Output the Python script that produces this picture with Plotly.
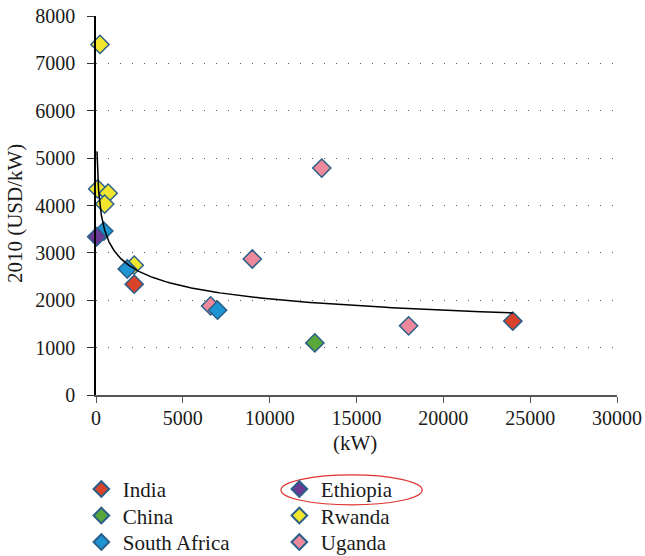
import numpy as np
import plotly.graph_objects as go

# ---- data ----
india_x = [2200, 24000]
india_y = [2340, 1560]
ethiopia_x = [40]
ethiopia_y = [3340]
china_x = [12600]
china_y = [1100]
rwanda_x = [230, 100, 700, 500, 2200]
rwanda_y = [7400, 4350, 4260, 4030, 2740]
safrica_x = [450, 1800, 7000]
safrica_y = [3460, 2660, 1790]
uganda_x = [13000, 9000, 6600, 18000]
uganda_y = [4790, 2870, 1880, 1460]

x_ticks = [0, 5000, 10000, 15000, 20000, 25000, 30000]
y_ticks = [0, 1000, 2000, 3000, 4000, 5000, 6000, 7000, 8000]

# power trend line y = A * x^B (coefficients)
TREND_A = 10647
TREND_B = -0.18
TREND_X_START = 57
TREND_X_END = 24000

# (name, x, y, colour, legend column, legend row)
series = [
    ("India", india_x, india_y, "#d8432a", 0, 0),
    ("China", china_x, china_y, "#5aa83a", 0, 1),
    ("Rwanda", rwanda_x, rwanda_y, "#f2e62c", 1, 1),
    ("Uganda", uganda_x, uganda_y, "#ee899b", 1, 2),
    ("South Africa", safrica_x, safrica_y, "#1f94d2", 0, 2),
    ("Ethiopia", ethiopia_x, ethiopia_y, "#6a3a94", 1, 0),
]

FONT = "Liberation Serif"
TXT = "#1a1a1a"

fig = go.Figure()

legend_layout = {}
col_x = [-0.031, 0.349]
row_y0 = -0.195
row_step = 26.5 / 379.0
for i, (name, xs, ys, col, lc, lr) in enumerate(series):
    key = "legend" if i == 0 else f"legend{i + 1}"
    fig.add_trace(go.Scatter(
        x=xs, y=ys, mode="markers", name=name, cliponaxis=False, legend=key,
        marker=dict(symbol="diamond", size=14, color=col,
                    line=dict(color="#2a5f8a", width=1.5)),
    ))
    legend_layout[key] = dict(
        x=col_x[lc], y=row_y0 - lr * row_step, xanchor="left", yanchor="top",
        orientation="v", bgcolor="rgba(0,0,0,0)", itemsizing="constant", itemwidth=33,
        font=dict(family=FONT, size=21, color=TXT))

tx = np.geomspace(TREND_X_START, TREND_X_END, 300)
ty = TREND_A * tx ** TREND_B
fig.add_trace(go.Scatter(x=tx, y=ty, mode="lines", line=dict(color="black", width=1.5),
                         showlegend=False, hoverinfo="skip"))

# red ellipse around "Ethiopia" legend entry
fig.add_shape(type="circle", xref="paper", yref="paper",
              x0=0.355, x1=0.626, y0=-0.290, y1=-0.211,
              line=dict(color="#e03030", width=1.2))

# axis titles
fig.add_annotation(text="(kW)", xref="paper", yref="paper", x=0.497, y=-0.127,
                   xanchor="center", yanchor="middle", showarrow=False,
                   font=dict(family=FONT, size=21, color=TXT))
fig.add_annotation(text="2010 (USD/kW)", xref="paper", yref="paper", x=-0.155, y=0.478,
                   xanchor="center", yanchor="middle", showarrow=False, textangle=-90,
                   font=dict(family=FONT, size=21, color=TXT))

fig.update_layout(
    width=645, height=556,
    margin=dict(l=96, r=28, t=16, b=161, autoexpand=False),
    paper_bgcolor="white", plot_bgcolor="white",
    font=dict(family=FONT, size=20, color=TXT),
    xaxis=dict(range=[0, 30000], tickvals=x_ticks, ticktext=[str(v) for v in x_ticks],
               showgrid=False, zeroline=False,
               showline=True, linecolor="#555", linewidth=2,
               ticks="outside", ticklen=6, tickcolor="#555", ticklabelstandoff=-2,
               automargin=False),
    yaxis=dict(range=[0, 8000], tickvals=y_ticks, ticktext=[str(v) for v in y_ticks],
               showgrid=True, gridcolor="#555", griddash="1px,11px", gridwidth=1,
               zeroline=False, showline=True, linecolor="black", linewidth=1.5,
               ticks="outside", ticklen=7, tickcolor="#333", ticklabelstandoff=8,
               automargin=False),
    showlegend=True,
    **legend_layout,
)

fig.write_html("out.html", config={"displayModeBar": False},
               post_script="document.body.style.margin='0';document.body.style.padding='0';")
